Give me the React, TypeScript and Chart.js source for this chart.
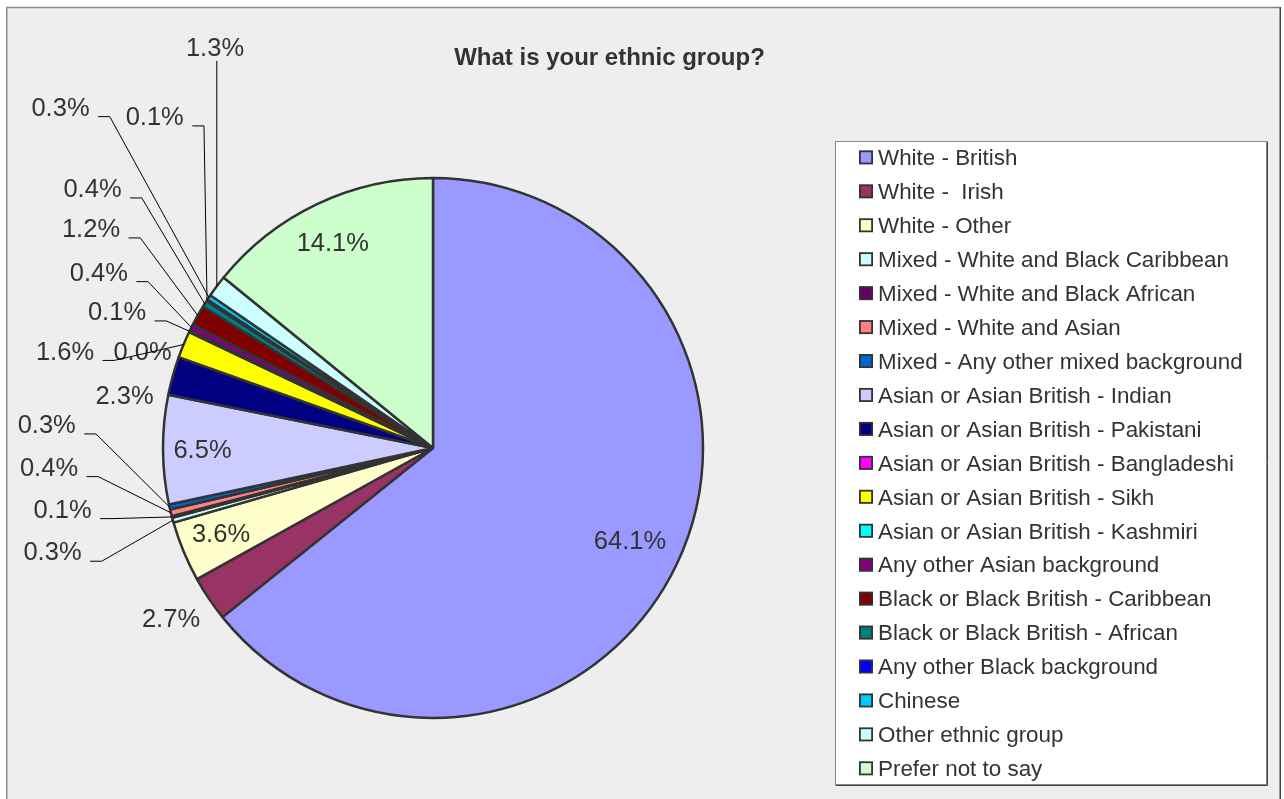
import React, { useEffect, useRef } from "react";
import { Chart, registerables } from "chart.js";

Chart.register(...registerables);

const chartTitle = "What is your ethnic group?";

const categories = [
  "White - British",
  "White -  Irish",
  "White - Other",
  "Mixed - White and Black Caribbean",
  "Mixed - White and Black African",
  "Mixed - White and Asian",
  "Mixed - Any other mixed background",
  "Asian or Asian British - Indian",
  "Asian or Asian British - Pakistani",
  "Asian or Asian British - Bangladeshi",
  "Asian or Asian British - Sikh",
  "Asian or Asian British - Kashmiri",
  "Any other Asian background",
  "Black or Black British - Caribbean",
  "Black or Black British - African",
  "Any other Black background",
  "Chinese",
  "Other ethnic group",
  "Prefer not to say",
];

const percentages = [
  64.1, 2.7, 3.6, 0.3, 0.1, 0.4, 0.3, 6.5, 2.3, 0.0, 1.6, 0.1, 0.4, 1.2, 0.4, 0.1, 0.3, 1.3, 14.1,
];

const sliceColors = [
  "#9999FF", "#993366", "#FFFFCC", "#CCFFFF", "#660066", "#FF8080", "#0066CC", "#CCCCFF",
  "#000080", "#FF00FF", "#FFFF00", "#00FFFF", "#800080", "#800000", "#008080", "#0000FF",
  "#00CCFF", "#CCFFFF", "#CCFFCC",
];

// Label layout: centre of each value label relative to the pie centre (in px for a 270px radius)
const labelDX = [
  197, -262, -212, -380.5, -370.5, -384, -386.3, -230.5, -308.5, -290.5, -368, -316, -334.2, -342,
  -340.5, -278.3, -372.5, -218, -100.2,
];
const labelDY = [
  92, 170.3, 85, 103.3, 60.7, 18.7, -24, 1, -53.5, -97.5, -97.5, -137, -176.3, -220, -260, -332,
  -341.3, -401.3, -206,
];
const labelLeader = [
  "none", "none", "none", "side", "side", "side", "side", "none", "none", "none", "side", "side",
  "side", "side", "side", "side", "side", "below", "none",
];

const FONT = '"Liberation Sans", Arial, Helvetica, sans-serif';
const LABEL_SIZE = 25.5;
const TEXT_COLOR = "#333333";

const framePlugin = {
  id: "frame",
  beforeDraw(chart: any) {
    const ctx = chart.ctx as CanvasRenderingContext2D;
    const W = chart.width;
    const H = chart.height;
    ctx.save();
    ctx.fillStyle = "#FFFFFF";
    ctx.fillRect(0, 0, W, H);
    // outer chart area
    ctx.fillStyle = "#EEEEEE";
    ctx.fillRect(6, 7, 1275, H);
    ctx.strokeStyle = "#8A8A8A";
    ctx.lineWidth = 1.5;
    ctx.beginPath();
    ctx.moveTo(6.75, H + 2);
    ctx.lineTo(6.75, 7.5);
    ctx.lineTo(1280, 7.5);
    ctx.stroke();
    ctx.strokeStyle = "#444444";
    ctx.lineWidth = 1.5;
    ctx.beginPath();
    ctx.moveTo(1280.25, 7);
    ctx.lineTo(1280.25, H + 2);
    ctx.stroke();
    // legend box
    ctx.fillStyle = "#FFFFFF";
    ctx.fillRect(835, 141, 432, 644);
    ctx.strokeStyle = "#888888";
    ctx.lineWidth = 1;
    ctx.strokeRect(835.5, 141.5, 431, 643);
    ctx.strokeStyle = "#444444";
    ctx.beginPath();
    ctx.moveTo(1267.5, 141.5);
    ctx.lineTo(1267.5, 785.5);
    ctx.lineTo(835.5, 785.5);
    ctx.stroke();
    ctx.restore();
  },
  afterDraw(chart: any) {
    const ctx = chart.ctx as CanvasRenderingContext2D;
    ctx.save();
    // title
    ctx.fillStyle = TEXT_COLOR;
    ctx.font = `bold 24px ${FONT}`;
    ctx.textAlign = "center";
    ctx.textBaseline = "alphabetic";
    ctx.fillText(chartTitle, 609.5, 65);
    // legend items
    const labels: string[] = chart.data.labels;
    const colors: string[] = chart.data.datasets[0].backgroundColor;
    ctx.font = `22.4px ${FONT}`;
    ctx.textAlign = "left";
    labels.forEach((lab, i) => {
      const top = 150.4 + 33.94 * i;
      ctx.fillStyle = colors[i];
      ctx.fillRect(859.5, top + 0.5, 13, 13);
      ctx.strokeStyle = "#333333";
      ctx.lineWidth = 1.8;
      ctx.strokeRect(859.9, top + 0.9, 12.2, 12.2);
      ctx.fillStyle = TEXT_COLOR;
      ctx.fillText(lab, 878, top + 14.8);
    });
    ctx.restore();
  },
};

const labelsPlugin = {
  id: "pieLabels",
  afterDatasetsDraw(chart: any) {
    const ctx = chart.ctx as CanvasRenderingContext2D;
    const meta = chart.getDatasetMeta(0);
    const data: number[] = chart.data.datasets[0].data;
    ctx.save();
    ctx.font = `${LABEL_SIZE}px ${FONT}`;
    ctx.textAlign = "center";
    ctx.textBaseline = "alphabetic";
    const capHalf = (LABEL_SIZE * 0.716) / 2;
    meta.data.forEach((arc: any, i: number) => {
      const p = arc.getProps(["x", "y", "startAngle", "endAngle", "outerRadius"], true);
      const mid = (p.startAngle + p.endAngle) / 2;
      const k = p.outerRadius / 270;
      const cx = p.x + labelDX[i] * k;
      const cy = p.y + labelDY[i] * k;
      const text = data[i].toFixed(1) + "%";
      const w = ctx.measureText(text).width;
      const baseY = cy + capHalf;
      const ex = p.x + Math.cos(mid) * p.outerRadius;
      const ey = p.y + Math.sin(mid) * p.outerRadius;
      ctx.strokeStyle = "#000000";
      ctx.lineWidth = 1;
      if (labelLeader[i] === "side") {
        const sx = cx + w / 2 + 8.5;
        const sy = baseY + 0.8;
        ctx.beginPath();
        ctx.moveTo(sx, sy);
        ctx.lineTo(sx + 11.7, sy);
        ctx.lineTo(ex, ey);
        ctx.stroke();
      } else if (labelLeader[i] === "below") {
        ctx.beginPath();
        ctx.moveTo(ex, baseY + 5);
        ctx.lineTo(ex, ey);
        ctx.stroke();
      }
      ctx.fillStyle = TEXT_COLOR;
      ctx.fillText(text, cx, baseY);
    });
    ctx.restore();
  },
};

export default function App() {
  const canvasRef = useRef<HTMLCanvasElement | null>(null);

  useEffect(() => {
    document.body.style.margin = "0";
    const canvas = canvasRef.current;
    if (!canvas) return;
    const chart = new Chart(canvas, {
      type: "pie",
      data: {
        labels: categories,
        datasets: [
          {
            data: percentages,
            backgroundColor: sliceColors,
            borderColor: "#333333",
            borderWidth: 2.5,
            hoverOffset: 0,
            offset: 0,
          },
        ],
      },
      options: {
        responsive: false,
        animation: false,
        devicePixelRatio: 1,
        events: [],
        radius: 270,
        layout: { padding: { left: 163, right: 581, top: 178, bottom: 81 } },
        plugins: {
          legend: { display: false },
          title: { display: false },
          tooltip: { enabled: false },
        },
      } as any,
      plugins: [framePlugin, labelsPlugin],
    });
    return () => chart.destroy();
  }, []);

  return (
    <div style={{ width: 1284, height: 799, overflow: "hidden" }}>
      <canvas ref={canvasRef} width={1284} height={799} style={{ display: "block" }} />
    </div>
  );
}
